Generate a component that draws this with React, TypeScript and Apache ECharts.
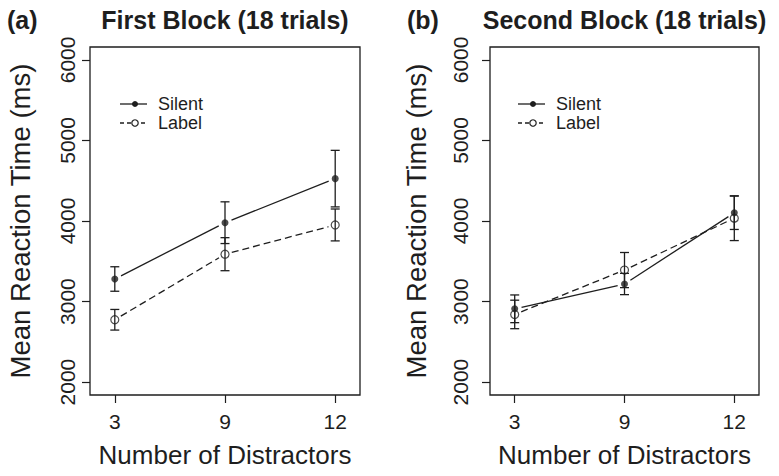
import React, { useEffect, useRef } from 'react';
import * as echarts from 'echarts';

const categories = ['3', '9', '12'];
const xPositions = [1, 2, 3];
const yTicks = [2000, 3000, 4000, 5000, 6000];
const silentA = [3280, 3979, 4526];
const silentAErr = [152, 259, 351];
const labelA = [2774, 3588, 3951];
const labelAErr = [128, 205, 198];
const silentB = [2910, 3218, 4102];
const silentBErr = [172, 132, 207];
const labelB = [2840, 3391, 4035];
const labelBErr = [177, 218, 278];
const seriesNames = ['Silent', 'Label'];
const panelTitles = ['First Block (18 trials)', 'Second Block (18 trials)'];
const panelTags = ['(a)', '(b)'];
const xTitle = 'Number of Distractors';
const yTitle = 'Mean Reaction Time (ms)';

const INK = '#1e1e1e';
const FONT = 'Liberation Sans, Arial, Helvetica, sans-serif';

export default function App() {
  const ref = useRef<HTMLDivElement>(null);
  useEffect(() => {
    if (!ref.current) return;
    const chart = echarts.init(ref.current, null, { renderer: 'svg' });

    const grids = [
      { left: 90, top: 47, width: 270, height: 348 },
      { left: 490, top: 47, width: 269, height: 348 },
    ];
    const yLabelMargin = [12, 19];
    const yNameGap = [56, 60];
    const panels = [
      { silent: silentA, silentErr: silentAErr, label: labelA, labelErr: labelAErr },
      { silent: silentB, silentErr: silentBErr, label: labelB, labelErr: labelBErr },
    ];

    const segRender = (dashed: boolean) => (params: any, api: any) => {
      const p1 = api.coord([api.value(0), api.value(1)]);
      const p2 = api.coord([api.value(2), api.value(3)]);
      const dx = p2[0] - p1[0];
      const dy = p2[1] - p1[1];
      const len = Math.hypot(dx, dy) || 1;
      const g = 7;
      const ux = dx / len;
      const uy = dy / len;
      return {
        type: 'line',
        shape: { x1: p1[0] + ux * g, y1: p1[1] + uy * g, x2: p2[0] - ux * g, y2: p2[1] - uy * g },
        style: { stroke: INK, lineWidth: 1.3, lineDash: dashed ? [7, 4] : null, fill: null },
      };
    };

    const errRender = (params: any, api: any) => {
      const x = api.value(0);
      const m = api.value(1);
      const e = api.value(2);
      const top = api.coord([x, m + e]);
      const bot = api.coord([x, m - e]);
      const hw = 4.5;
      const st = { stroke: INK, lineWidth: 1.3 };
      return {
        type: 'group',
        children: [
          { type: 'line', shape: { x1: top[0], y1: top[1], x2: bot[0], y2: bot[1] }, style: st },
          { type: 'line', shape: { x1: top[0] - hw, y1: top[1], x2: top[0] + hw, y2: top[1] }, style: st },
          { type: 'line', shape: { x1: bot[0] - hw, y1: bot[1], x2: bot[0] + hw, y2: bot[1] }, style: st },
        ],
      };
    };

    const series: any[] = [];
    panels.forEach((p, pi) => {
      const groups = [
        { name: seriesNames[0], vals: p.silent, errs: p.silentErr, dashed: false, filled: true },
        { name: seriesNames[1], vals: p.label, errs: p.labelErr, dashed: true, filled: false },
      ];
      groups.forEach((g) => {
        const segs = [];
        for (let i = 0; i < g.vals.length - 1; i++) {
          segs.push([xPositions[i], g.vals[i], xPositions[i + 1], g.vals[i + 1]]);
        }
        series.push({
          type: 'custom',
          name: g.name,
          xAxisIndex: pi,
          yAxisIndex: pi,
          renderItem: segRender(g.dashed),
          encode: { x: [0, 2], y: [1, 3] },
          data: segs,
          silent: true,
          z: 2,
        });
        series.push({
          type: 'custom',
          name: g.name,
          xAxisIndex: pi,
          yAxisIndex: pi,
          renderItem: errRender,
          encode: { x: 0, y: 1 },
          data: g.vals.map((v, i) => [xPositions[i], v, g.errs[i]]),
          silent: true,
          z: 4,
        });
        series.push({
          type: 'scatter',
          name: g.name,
          xAxisIndex: pi,
          yAxisIndex: pi,
          symbol: 'circle',
          symbolSize: g.filled ? 7 : 8,
          itemStyle: g.filled
            ? { color: INK }
            : { color: 'rgba(0,0,0,0)', borderColor: INK, borderWidth: 1.2 },
          data: g.vals.map((v, i) => [xPositions[i], v]),
          z: 3,
        });
      });
    });

    const axisLineStyle = { color: INK, width: 1.2 };

    const graphic: any[] = [];
    const legendX = [120, 518];
    grids.forEach((g, i) => {
      const cx = g.left + g.width / 2;
      graphic.push({
        type: 'text',
        x: cx,
        y: 20,
        style: {
          text: panelTitles[i],
          font: `bold 25px ${FONT}`,
          fill: INK,
          textAlign: 'center',
          textVerticalAlign: 'middle',
        },
      });
      graphic.push({
        type: 'text',
        x: i === 0 ? 7 : 407,
        y: 20,
        style: {
          text: panelTags[i],
          font: `bold 25px ${FONT}`,
          fill: INK,
          textAlign: 'left',
          textVerticalAlign: 'middle',
        },
      });
      const ox = legendX[i];
      graphic.push(
        { type: 'line', shape: { x1: ox, y1: 104, x2: ox + 27, y2: 104 }, style: { stroke: INK, lineWidth: 1.3 } },
        { type: 'circle', shape: { cx: ox + 15, cy: 104, r: 3 }, style: { fill: INK } },
        {
          type: 'text',
          x: ox + 38,
          y: 104,
          style: { text: seriesNames[0], font: `18px ${FONT}`, fill: INK, textAlign: 'left', textVerticalAlign: 'middle' },
        },
        {
          type: 'line',
          shape: { x1: ox, y1: 123, x2: ox + 27, y2: 123 },
          style: { stroke: INK, lineWidth: 1.3, lineDash: [4, 3] },
        },
        { type: 'circle', shape: { cx: ox + 15, cy: 123, r: 3.2 }, style: { fill: '#fff', stroke: INK, lineWidth: 1.2 } },
        {
          type: 'text',
          x: ox + 38,
          y: 123,
          style: { text: seriesNames[1], font: `18px ${FONT}`, fill: INK, textAlign: 'left', textVerticalAlign: 'middle' },
        }
      );
    });

    chart.setOption({
      animation: false,
      backgroundColor: '#fff',
      textStyle: { fontFamily: FONT },
      grid: grids.map((g) => ({
        ...g,
        show: true,
        borderColor: INK,
        borderWidth: 1.3,
        backgroundColor: 'transparent',
        containLabel: false,
      })),
      xAxis: grids.map((g, i) => ({
        type: 'value',
        gridIndex: i,
        min: 0.775,
        max: 3.225,
        splitLine: { show: false },
        axisLine: { show: false },
        axisTick: { show: true, length: 8, customValues: xPositions, lineStyle: axisLineStyle },
        axisLabel: {
          customValues: xPositions,
          formatter: (v: number) => categories[xPositions.indexOf(v)] ?? '',
          fontSize: 21,
          margin: 16,
          color: INK,
          fontFamily: FONT,
        },
        name: xTitle,
        nameLocation: 'middle',
        nameGap: 47,
        nameTextStyle: { fontSize: 26, color: INK, fontFamily: FONT },
      })),
      yAxis: grids.map((g, i) => ({
        type: 'value',
        gridIndex: i,
        min: 1840,
        max: 6160,
        splitLine: { show: false },
        axisLine: { show: false },
        axisTick: { show: true, length: 8, customValues: yTicks, lineStyle: axisLineStyle },
        axisLabel: {
          customValues: yTicks,
          formatter: (v: number) => String(v),
          rotate: 90,
          fontSize: 21,
          margin: yLabelMargin[i],
          color: INK,
          fontFamily: FONT,
        },
        name: yTitle,
        nameLocation: 'middle',
        nameRotate: 90,
        nameGap: yNameGap[i],
        nameTextStyle: { fontSize: 27.5, color: INK, fontFamily: FONT },
      })),
      series,
      graphic,
    });
    return () => chart.dispose();
  }, []);
  return (
    <div
      ref={ref}
      style={{ position: 'fixed', left: 0, top: 0, width: 779, height: 476, background: '#fff' }}
    />
  );
}
